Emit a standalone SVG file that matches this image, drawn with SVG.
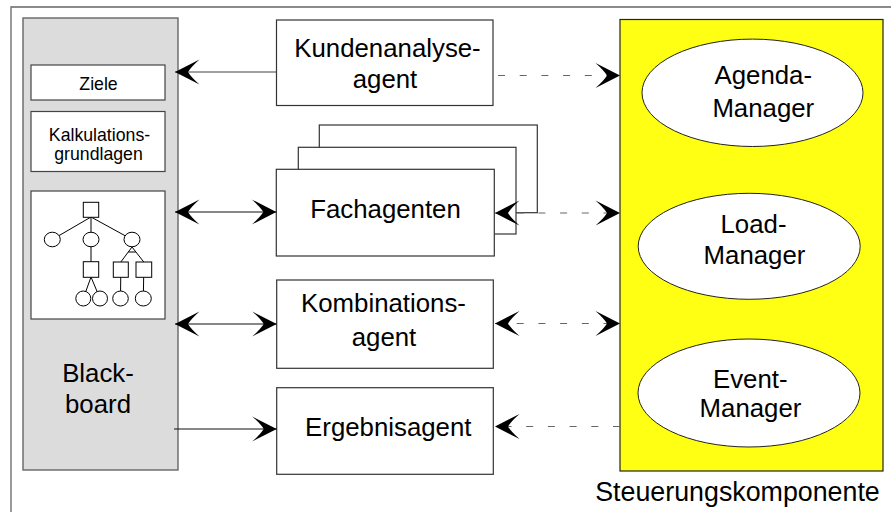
<svg xmlns="http://www.w3.org/2000/svg" width="891" height="512" viewBox="0 0 891 512">
<style>
text{font-family:"Liberation Sans",Arial,sans-serif;fill:#000;text-anchor:middle}
.big{font-size:25.8px}
.small{font-size:17.7px}
.box{fill:#fff;stroke:#333;stroke-width:1.2}
.sub{fill:#fff;stroke:#444;stroke-width:1.2}
.ell{fill:#fff;stroke:#222;stroke-width:1}
.solid{fill:none;stroke:#111;stroke-width:1.1}
.dash{fill:none;stroke:#666;stroke-width:1.1;stroke-dasharray:7 14.7}
.tree line{stroke:#000;stroke-width:1}
.tree rect,.tree ellipse{fill:#fff;stroke:#000;stroke-width:1}
</style>
<defs>
<marker id="ah" markerUnits="userSpaceOnUse" markerWidth="27" markerHeight="28" refX="25" refY="13" orient="auto-start-reverse" viewBox="0 0 27 28">
<path d="M25,13 L0.5,0.5 Q9,8 12,13 Q9,18 0.5,25.5 Z" fill="#000"/>
</marker>
</defs>
<rect width="891" height="512" fill="#fff"/>
<path d="M11,520 V7 H900" fill="none" stroke="#666" stroke-width="1.3"/>

<g id="blackboard">
<rect x="23" y="18" width="155" height="452" fill="#dcdcdc" stroke="#666" stroke-width="1.4"/>
<text class="big" x="98" y="382">Black-</text>
<text class="big" x="98" y="413">board</text>
</g>
<g id="ziele">
<rect class="sub" x="31" y="65" width="134" height="35"/>
<text class="small" x="98.5" y="90">Ziele</text>
</g>
<g id="kalkulationsgrundlagen">
<rect class="sub" x="31" y="111.5" width="134" height="60"/>
<text class="small" x="99.5" y="141">Kalkulations-</text>
<text class="small" x="98.5" y="160">grundlagen</text>
</g>
<g id="baum" class="tree">
<rect class="sub" x="31" y="191" width="134" height="128" style="fill:#fff;stroke:#444;stroke-width:1.2"/>
<line x1="91" y1="217" x2="52.3" y2="239.5"/>
<line x1="91" y1="217" x2="91" y2="239.5"/>
<line x1="91" y1="217" x2="132" y2="239.5"/>
<line x1="91" y1="239.5" x2="91" y2="269"/>
<line x1="91" y1="277" x2="83.3" y2="298.5"/>
<line x1="91" y1="277" x2="100" y2="298.5"/>
<line x1="132" y1="247" x2="120.8" y2="262"/>
<line x1="132" y1="247" x2="143.8" y2="262"/>
<line x1="128.3" y1="252" x2="135.8" y2="252"/>
<line x1="120.8" y1="270" x2="120.5" y2="298.5"/>
<line x1="143.8" y1="270" x2="143.3" y2="298.5"/>
<rect x="83.3" y="202.3" width="15.4" height="15"/>
<ellipse cx="52.3" cy="239.5" rx="8" ry="7.3"/>
<ellipse cx="91" cy="239.5" rx="8" ry="7.3"/>
<ellipse cx="132" cy="239.5" rx="8" ry="7.3"/>
<rect x="83.3" y="261.7" width="15.4" height="15.6"/>
<rect x="113.3" y="262" width="15" height="15.3"/>
<rect x="136" y="262" width="15.7" height="15.3"/>
<ellipse cx="83.3" cy="298.5" rx="7.5" ry="7.5"/>
<ellipse cx="100" cy="298.5" rx="7.5" ry="7.5"/>
<ellipse cx="120.5" cy="298.5" rx="7.8" ry="7.5"/>
<ellipse cx="143.3" cy="298.5" rx="8" ry="7.5"/>
</g>

<g id="kundenanalyseagent">
<rect class="box" x="276.5" y="20" width="216.5" height="85.5"/>
<text class="big" x="387.5" y="57">Kundenanalyse-</text>
<text class="big" x="385" y="88">agent</text>
</g>
<g id="fachagenten">
<rect class="box" x="319.3" y="125" width="218" height="87.7"/>
<rect class="box" x="298.3" y="147.3" width="217.7" height="86.7"/>
<rect class="box" x="276.3" y="169.3" width="218" height="86.7"/>
<text class="big" x="385.5" y="218">Fachagenten</text>
</g>
<g id="kombinationsagent">
<rect class="box" x="276.7" y="280" width="216.6" height="88.3"/>
<text class="big" x="383.5" y="311.5">Kombinations-</text>
<text class="big" x="384" y="346">agent</text>
</g>
<g id="ergebnisagent">
<rect class="box" x="276.7" y="387.7" width="216.6" height="86.6"/>
<text class="big" x="388.3" y="436">Ergebnisagent</text>
</g>

<g id="steuerungskomponente">
<rect x="620" y="19.5" width="263" height="451.5" fill="#ffff14" stroke="#222" stroke-width="1.2"/>
<text x="737.5" y="501" style="font-size:26.8px">Steuerungskomponente</text>
</g>
<g id="agenda-manager">
<ellipse class="ell" cx="752.5" cy="92.8" rx="110.5" ry="53.7"/>
<text class="big" x="763.3" y="84.3">Agenda-</text>
<text class="big" x="763.3" y="116.7">Manager</text>
</g>
<g id="load-manager">
<ellipse class="ell" cx="749.2" cy="246.3" rx="111" ry="53"/>
<text class="big" x="753.5" y="233.3">Load-</text>
<text class="big" x="754.5" y="264">Manager</text>
</g>
<g id="event-manager">
<ellipse class="ell" cx="749" cy="393" rx="111" ry="54"/>
<text class="big" x="750.3" y="388">Event-</text>
<text class="big" x="750.5" y="417.3">Manager</text>
</g>

<g id="connectors">
<line class="solid" x1="276.5" y1="72" x2="175" y2="72" marker-end="url(#ah)" style="stroke:#444"/>
<line class="dash" x1="498" y1="75.5" x2="620" y2="75.5" marker-end="url(#ah)"/>
<line class="solid" x1="175" y1="212" x2="276.3" y2="212" marker-start="url(#ah)" marker-end="url(#ah)"/>
<line class="dash" x1="495" y1="213" x2="620" y2="213" marker-start="url(#ah)" marker-end="url(#ah)"/>
<line class="solid" x1="175" y1="324" x2="276.7" y2="324" marker-start="url(#ah)" marker-end="url(#ah)"/>
<line class="dash" x1="495" y1="323.5" x2="620" y2="323.5" marker-start="url(#ah)" marker-end="url(#ah)"/>
<line class="solid" x1="174" y1="429" x2="276.7" y2="429" marker-end="url(#ah)"/>
<line class="dash" x1="620" y1="426.5" x2="495" y2="426.5" marker-end="url(#ah)"/>
</g>
</svg>
